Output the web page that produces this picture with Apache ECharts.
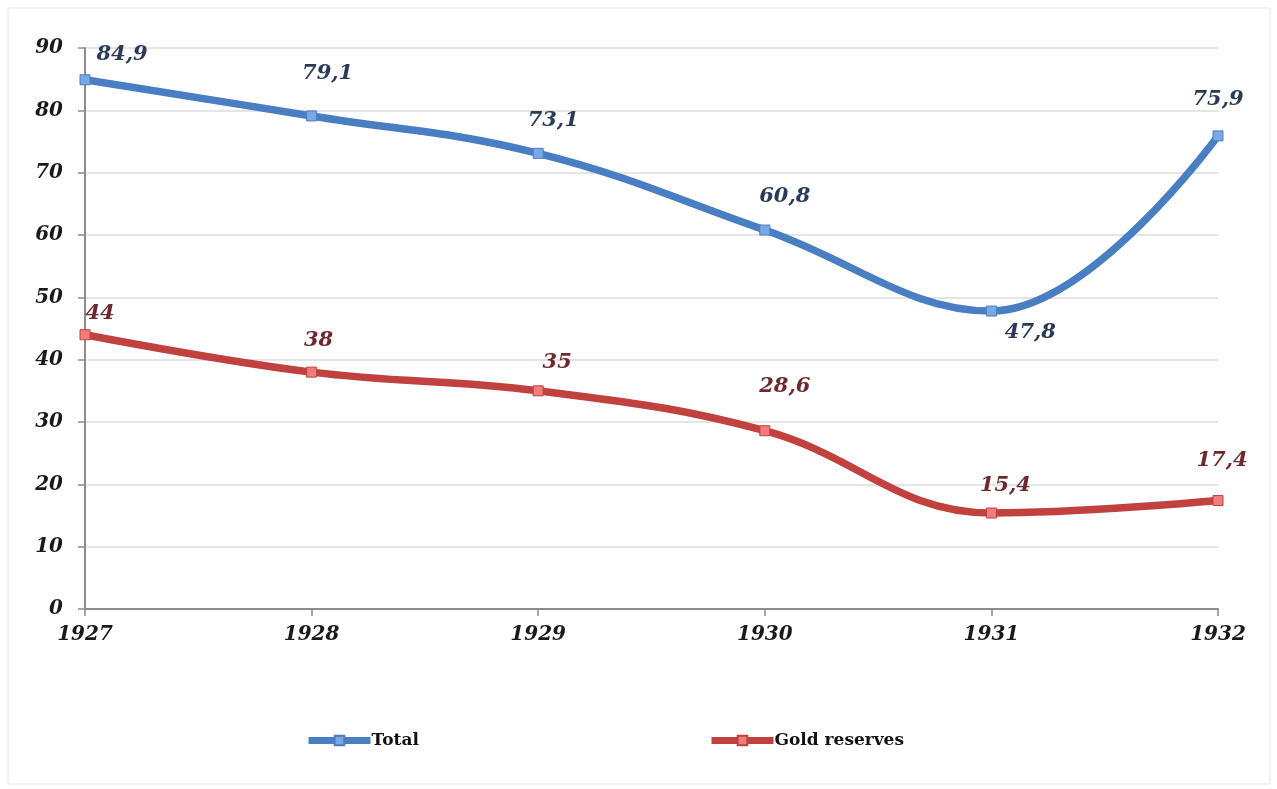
<!DOCTYPE html>
<html>
<head>
<meta charset="utf-8">
<script src="https://cdn.jsdelivr.net/npm/echarts@6/dist/echarts.min.js"></script>
<style>
  html, body { margin: 0; padding: 0; background: #fff; }
  #chart { width: 1277px; height: 789px; }
</style>
</head>
<body>
<div id="chart"></div>
<script>
  var years = ['1927', '1928', '1929', '1930', '1931', '1932']
  var totalValues = [84.9, 79.1, 73.1, 60.8, 47.8, 75.9]
  var goldValues = [44, 38, 35, 28.6, 15.4, 17.4]
  var yTicks = [0, 10, 20, 30, 40, 50, 60, 70, 80, 90]

  // label placement per point
  var totalLabelPos = [[37, -25], [16, -42], [15, -33], [20, -33], [39, 22], [0, -36]]
  var goldLabelPos = [[15, -21], [7, -32], [19, -28], [20, -44], [14, -27], [4, -40]]

  var serif = '"DejaVu Serif", "Liberation Serif", serif'

  function fmt(v) {
    return String(v).replace('.', ',')
  }

  function buildData(values, offsets) {
    return values.map(function (v, i) {
      return {
        value: v,
        label: { offset: offsets[i] }
      }
    })
  }

  var legendText = { fontFamily: serif, fontWeight: 'bold', fontSize: 17, color: '#111', padding: [0, 0, 0, -4] }

  var chart = echarts.init(document.getElementById('chart'))
  chart.setOption({
    backgroundColor: '#ffffff',
    animation: false,
    graphic: [{
      type: 'rect',
      shape: { x: 8, y: 8, width: 1262, height: 776 },
      style: { fill: 'none', stroke: '#e6e6e6', lineWidth: 1 },
      silent: true
    }],
    grid: {
      left: 85,
      right: 59,
      top: 48,
      bottom: 180
    },
    legend: [{
      data: ['Total'],
      left: 305,
      top: 732,
      padding: 0,
      itemWidth: 62,
      itemHeight: 12,
      lineStyle: { width: 7 },
      textStyle: legendText
    }, {
      data: ['Gold reserves'],
      left: 708,
      top: 732,
      padding: 0,
      itemWidth: 62,
      itemHeight: 12,
      lineStyle: { width: 7 },
      textStyle: legendText
    }],
    xAxis: {
      type: 'category',
      data: years,
      boundaryGap: false,
      axisLine: { lineStyle: { color: '#8c8c8c', width: 2 } },
      axisTick: { length: 7, lineStyle: { color: '#8c8c8c', width: 1.5 } },
      axisLabel: {
        margin: 16,
        fontFamily: serif,
        fontStyle: 'italic',
        fontWeight: 'bold',
        fontSize: 20,
        color: '#1a1a1a'
      },
      splitLine: { show: false }
    },
    yAxis: {
      type: 'value',
      min: yTicks[0],
      max: yTicks[yTicks.length - 1],
      interval: 10,
      axisLine: { show: true, lineStyle: { color: '#8c8c8c', width: 2 } },
      axisTick: { show: true, length: 7, lineStyle: { color: '#8c8c8c', width: 1.5 } },
      axisLabel: {
        margin: 22,
        fontFamily: serif,
        fontStyle: 'italic',
        fontWeight: 'bold',
        fontSize: 20,
        color: '#1a1a1a'
      },
      splitLine: { lineStyle: { color: '#dcdcdc', width: 1.5 } }
    },
    series: [
      {
        name: 'Total',
        type: 'line',
        smooth: 0.4,
        data: buildData(totalValues, totalLabelPos),
        symbol: 'rect',
        symbolSize: 10,
        lineStyle: { color: '#4a7ec2', width: 7.5 },
        itemStyle: { color: '#7aa7e6', borderColor: '#4a7ec2', borderWidth: 1 },
        label: {
          show: true,
          position: 'inside',
          formatter: function (p) { return fmt(p.value) },
          fontFamily: serif,
          fontStyle: 'italic',
          fontWeight: 'bold',
          fontSize: 21,
          color: '#2b3a57'
        },
        z: 3
      },
      {
        name: 'Gold reserves',
        type: 'line',
        smooth: 0.4,
        data: buildData(goldValues, goldLabelPos),
        symbol: 'rect',
        symbolSize: 10,
        lineStyle: { color: '#c0413e', width: 7.5 },
        itemStyle: { color: '#f07d7b', borderColor: '#c0413e', borderWidth: 1 },
        label: {
          show: true,
          position: 'inside',
          formatter: function (p) { return fmt(p.value) },
          fontFamily: serif,
          fontStyle: 'italic',
          fontWeight: 'bold',
          fontSize: 21,
          color: '#6b2b2e'
        },
        z: 3
      }
    ]
  })
</script>
</body>
</html>
